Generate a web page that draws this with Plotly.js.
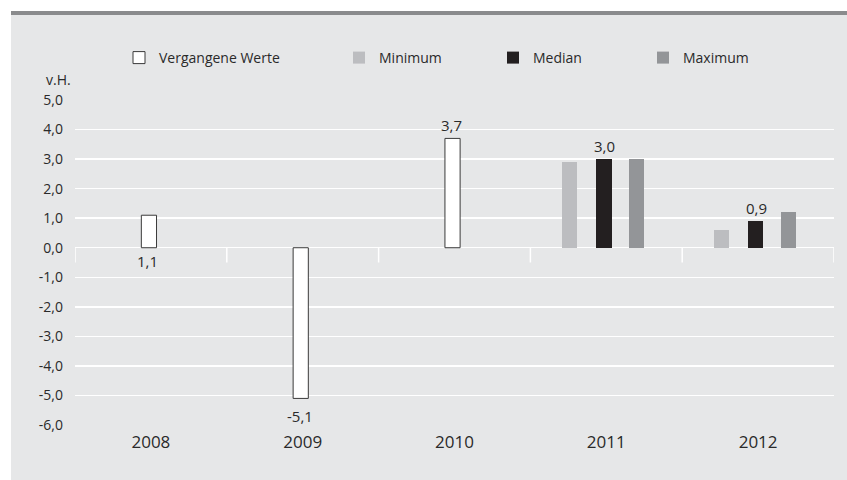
<!DOCTYPE html>
<html>
<head>
<meta charset="utf-8">
<script src="https://cdn.plot.ly/plotly-3.0.1.min.js"></script>
<style>html,body{margin:0;padding:0;background:#fff;}#chart{width:847px;height:480px;}</style>
</head>
<body>
<div id="chart"></div>
<script>
// ---- data ----
var categories = ['2008', '2009', '2010', '2011', '2012'];
var pastValues = [1.1, -5.1, 3.7, null, null];
var minimumValues = [null, null, null, 2.9, 0.6];
var medianValues = [null, null, null, 3.0, 0.9];
var maximumValues = [null, null, null, 3.0, 1.2];
var seriesNames = ['Vergangene Werte', 'Minimum', 'Median', 'Maximum'];
var yTicks = [5, 4, 3, 2, 1, 0, -1, -2, -3, -4, -5, -6];
var yUnit = 'v.H.';

// ---- layout helpers ----
var W = 847, H = 480;
var plotL = 75, plotR = 834, plotT = 100, plotB = 425;
var FONT = '"Open Sans", "DejaVu Sans", sans-serif';
var TXT = '#2a2a2a';
function px2px(x) { return (x - plotL) / (plotR - plotL); }
function py2py(y) { return (plotB - y) / (plotB - plotT); }
function fmt(v) { return v.toFixed(1).replace('.', ','); }

var barW = 0.1;
var specs = [
  {y: pastValues, fill: '#ffffff', line: {color: '#3a3a3a', width: 1}, off: -0.063, legend: 'legend', lx: 119},
  {y: minimumValues, fill: '#bcbdc0', line: {width: 0}, off: -0.29, legend: 'legend2', lx: 339},
  {y: medianValues, fill: '#231f20', line: {width: 0}, off: -0.065, legend: 'legend3', lx: 493},
  {y: maximumValues, fill: '#939598', line: {width: 0}, off: 0.15, legend: 'legend4', lx: 643}
];
var traces = specs.map(function (t, k) {
  return {
    type: 'bar', x: categories, y: t.y, name: seriesNames[k],
    width: barW, offset: t.off,
    marker: {color: t.fill, line: t.line},
    legend: t.legend, hoverinfo: 'skip', cliponaxis: false
  };
});

var layout = {};
specs.forEach(function (t) {
  layout[t.legend] = {
    xref: 'container', yref: 'container', x: t.lx / W, y: 1 - 42 / H,
    xanchor: 'left', yanchor: 'top', orientation: 'h',
    bgcolor: 'rgba(0,0,0,0)', borderwidth: 0,
    font: {family: FONT, size: 14, color: TXT}, itemclick: false, itemdoubleclick: false
  };
});

// value labels (past values and median)
var annotations = [];
pastValues.forEach(function (v, i) {
  if (v === null) return;
  var below = (i === 0) || v < 0;
  annotations.push({
    x: i, y: v < 0 ? v : (below ? 0 : v), xref: 'x', yref: 'y',
    text: fmt(v), showarrow: false, xshift: -3,
    yanchor: below ? 'top' : 'bottom', yshift: v < 0 ? -6 : (below ? -1 : 1),
    font: {family: FONT, size: 15, color: TXT}
  });
});
medianValues.forEach(function (v, i) {
  if (v === null) return;
  annotations.push({
    x: i, y: v, xref: 'x', yref: 'y', text: fmt(v), showarrow: false,
    xshift: -2, yanchor: 'bottom', yshift: 1,
    font: {family: FONT, size: 15, color: TXT}
  });
});
annotations.push({
  xref: 'paper', yref: 'paper', x: px2px(73), y: py2py(79), xanchor: 'right', yanchor: 'middle',
  text: yUnit, showarrow: false, font: {family: FONT, size: 14, color: TXT}
});

// background panel, top rule, category boundary ticks at zero line
var shapes = [
  {type: 'rect', xref: 'paper', yref: 'paper', x0: px2px(11), x1: px2px(W + 5), y0: py2py(H + 5), y1: py2py(15),
   fillcolor: '#e6e7e8', line: {width: 0}, layer: 'below'},
  {type: 'rect', xref: 'paper', yref: 'paper', x0: px2px(11), x1: px2px(W + 5), y0: py2py(15), y1: py2py(11),
   fillcolor: '#8a8b8d', line: {width: 0}, layer: 'below'}
];
for (var i = 0; i <= categories.length; i++) {
  shapes.push({type: 'line', xref: 'x', yref: 'y', x0: i - 0.5, x1: i - 0.5, y0: 0, y1: -0.5,
    line: {color: '#ffffff', width: 1.5}, layer: 'below'});
}

Object.assign(layout, {
  width: W, height: H,
  margin: {l: plotL, r: W - plotR, t: plotT, b: H - plotB, pad: 0},
  paper_bgcolor: '#ffffff', plot_bgcolor: 'rgba(0,0,0,0)',
  separators: ',.',
  barmode: 'overlay', bargap: 0,
  showlegend: true,
  xaxis: {
    type: 'category', range: [-0.5, categories.length - 0.5], showgrid: false, zeroline: false,
    showline: false, ticks: '', tickfont: {family: FONT, size: 17, color: TXT}, ticklabelstandoff: 5, fixedrange: true
  },
  yaxis: {
    range: [-6, 5], tickvals: yTicks, ticktext: yTicks.map(fmt), showgrid: true, gridcolor: '#ffffff', gridwidth: 1.5,
    zeroline: false, showline: false, ticks: '', ticklabelstandoff: 11,
    tickfont: {family: FONT, size: 14, color: TXT}, fixedrange: true
  },
  annotations: annotations,
  shapes: shapes
});

Plotly.newPlot('chart', traces, layout, {displayModeBar: false, staticPlot: true});
</script>
</body>
</html>
